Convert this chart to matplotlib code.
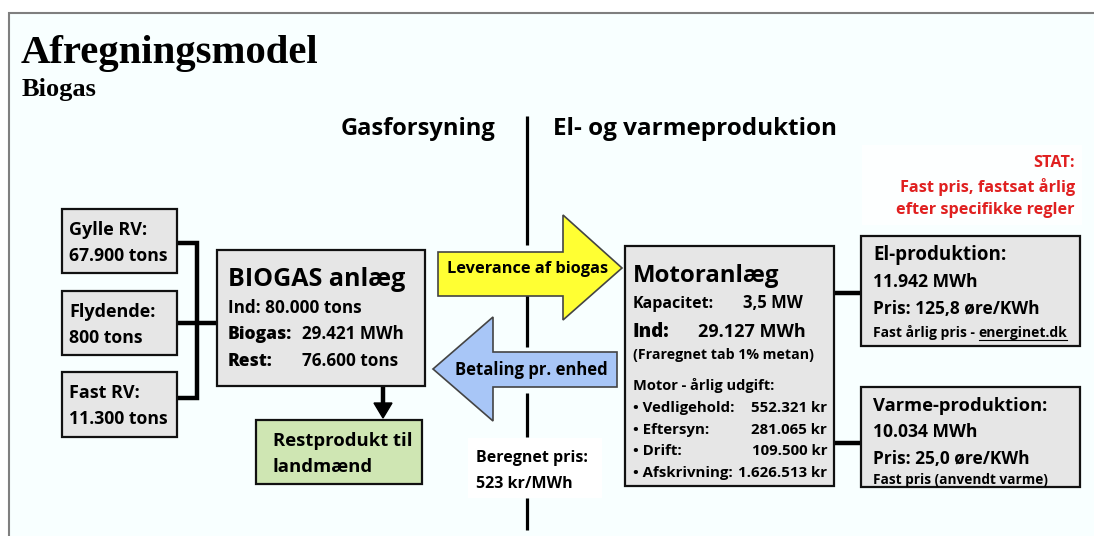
import matplotlib.pyplot as plt
from matplotlib.patches import Rectangle, Polygon

# diagram text
title = 'Afregningsmodel'
subtitle = 'Biogas'
left_head = 'Gasforsyning'
right_head = 'El- og varmeproduktion'

inputs = [('Gylle RV:', '67.900 tons'), ('Flydende:', '800 tons'), ('Fast RV:', '11.300 tons')]
biogas_title = 'BIOGAS anlæg'
biogas_rows = [('Ind:', '80.000 tons'), ('Biogas:', '29.421 MWh'), ('Rest:', '76.600 tons')]
rest_lines = ['Restprodukt til', 'landmænd']
arrow_right_txt = 'Leverance af biogas'
arrow_left_txt = 'Betaling pr. enhed'
price_lines = ['Beregnet pris:', '523 kr/MWh']

motor_title = 'Motoranlæg'
motor_cap = ('Kapacitet:', '3,5 MW')
motor_ind = ('Ind:', '29.127 MWh')
motor_note = '(Fraregnet tab 1% metan)'
cost_head = 'Motor - årlig udgift:'
cost_names = ['Vedligehold:', 'Eftersyn:', 'Drift:', 'Afskrivning:']
cost_vals = ['552.321 kr', '281.065 kr', '109.500 kr', '1.626.513 kr']

stat_lines = ['STAT:', 'Fast pris, fastsat årlig', 'efter specifikke regler']
el_lines = ['El-produktion:', '11.942 MWh', 'Pris: 125,8 øre/KWh']
el_note = 'Fast årlig pris - '
el_link = 'energinet.dk'
varme_lines = ['Varme-produktion:', '10.034 MWh', 'Pris: 25,0 øre/KWh', 'Fast pris (anvendt varme)']

SANS = 'Open Sans'
BOX = '#e6e6e6'
BG = '#f8ffff'

fig = plt.figure(figsize=(10.94, 5.36), dpi=100)
ax = fig.add_axes([0, 0, 1, 1])
ax.set_xlim(0, 1094)
ax.set_ylim(536, 0)
ax.axis('off')

# frame
ax.add_patch(Rectangle((9, 13), 1200, 600, facecolor=BG, edgecolor='#7f7f7f', lw=1.5))

def box(x0, y0, x1, y1, fc=BOX):
    ax.add_patch(Rectangle((x0, y0), x1 - x0, y1 - y0, facecolor=fc, edgecolor='#111111', lw=1.6, zorder=3))

def txt(x, y, s, size=12, **kw):
    kw.setdefault('family', SANS)
    kw.setdefault('weight', 'bold')
    return ax.text(x, y, s, fontsize=size, va='baseline', zorder=5, **kw)

# titles
txt(21, 63, title, 29.3, family='Liberation Serif')
txt(22, 96, subtitle, 19, family='Liberation Serif')
txt(341, 135, left_head, 17)
txt(553, 135, right_head, 17.5)

# divider line with gaps
for y0, y1 in [(116, 245), (293, 347), (393, 437), (498, 530)]:
    ax.plot([527, 527], [y0, y1], color='black', lw=2.3, solid_capstyle='butt', zorder=2)

# input boxes
in_boxes = [(209, 273), (291, 355), (372, 437)]
for (a, b), (y0, y1) in zip(inputs, in_boxes):
    box(62, y0, 177, y1)
    txt(69, y0 + 26, a, 13)
    txt(69, y0 + 52, b, 12.7)

# connectors
lk = dict(color='black', lw=3.2, zorder=2, solid_capstyle='butt')
ax.plot([177, 197, 197, 177], [243, 243, 398, 398], solid_joinstyle='miter', **lk)
ax.plot([177, 217], [323, 323], **lk)

# biogas box
box(217, 250, 425, 386)
txt(228, 286, biogas_title, 18)
txt(228, 313, biogas_rows[0][0] + ' ' + biogas_rows[0][1], 12.3)
txt(228, 339, biogas_rows[1][0], 12.5, weight='heavy')
txt(302, 339, biogas_rows[1][1], 12.3)
txt(228, 366, biogas_rows[2][0], 12.5, weight='heavy')
txt(302, 366, biogas_rows[2][1], 12.3)

# arrow down to rest product
ax.plot([383, 383], [386, 405], **lk)
ax.add_patch(Polygon([(374, 403), (392, 403), (383, 418)], closed=True, color='black', zorder=4))
box(256, 420, 422, 484, fc='#cfe6b3')
txt(273, 446, rest_lines[0], 13.3)
txt(273, 472, rest_lines[1], 13.3)

# yellow arrow (right)
yel = [(438, 252), (563, 252), (563, 215), (622, 268), (563, 320), (563, 296), (438, 296)]
ax.add_patch(Polygon(yel, closed=True, facecolor='#ffff33', edgecolor='#444444', lw=1.2, zorder=3))
txt(528, 273, arrow_right_txt, 11.8, ha='center')

# blue arrow (left)
blu = [(617, 352), (493, 352), (493, 317), (433, 369), (493, 421), (493, 387), (617, 387)]
ax.add_patch(Polygon(blu, closed=True, facecolor='#a8c6f7', edgecolor='#444444', lw=1.2, zorder=3))
txt(531, 375, arrow_left_txt, 12, ha='center')

# calculated price
ax.add_patch(Rectangle((468, 438), 134, 60, facecolor='white', edgecolor='none', zorder=1))
txt(476, 462, price_lines[0], 11.5)
txt(476, 488, price_lines[1], 11.5)

# motor box
box(625, 246, 834, 486)
txt(633, 282, motor_title, 17.3)
txt(633, 308, motor_cap[0], 11.5)
txt(743, 308, motor_cap[1], 12)
txt(633, 337, motor_ind[0], 13.5, weight='heavy')
txt(698, 337, motor_ind[1], 13)
txt(633, 359, motor_note, 10.2)
txt(633, 390, cost_head, 10.5)
for i, (n, v) in enumerate(zip(cost_names, cost_vals)):
    yb = 412 + i * 21.7
    txt(633, yb, '\u2022 ' + n, 10.8)
    txt(827, yb, v, 10.8, ha='right')

# connectors to outputs
ax.plot([834, 862], [293, 293], **lk)
ax.plot([834, 862], [443, 443], **lk)

# STAT note
ax.add_patch(Rectangle((862, 145), 220, 80, facecolor='#fdffff', edgecolor='none', zorder=1))
for i, s in enumerate(stat_lines):
    txt(1075, [167, 192, 214][i], s, 11.7, ha='right', color='#e02020')

# El box
box(861, 236, 1080, 346)
txt(873, 260, el_lines[0], 13.5)
txt(873, 287, el_lines[1], 12.6)
txt(873, 314, el_lines[2], 12.5)
t = txt(873, 337, el_note, 10)
fig.canvas.draw()
bb = t.get_window_extent().transformed(ax.transData.inverted())
t2 = txt(bb.x1, 337, el_link, 10)
fig.canvas.draw()
bb2 = t2.get_window_extent().transformed(ax.transData.inverted())
ax.plot([bb2.x0, bb2.x1], [340, 340], color='black', lw=0.8, zorder=5)

# Varme box
box(861, 387, 1080, 487)
txt(873, 411, varme_lines[0], 13.2)
txt(873, 437, varme_lines[1], 12.6)
txt(873, 464, varme_lines[2], 12.5)
txt(873, 484, varme_lines[3], 9.8)

fig.savefig('out.png', dpi=100, facecolor='white')
